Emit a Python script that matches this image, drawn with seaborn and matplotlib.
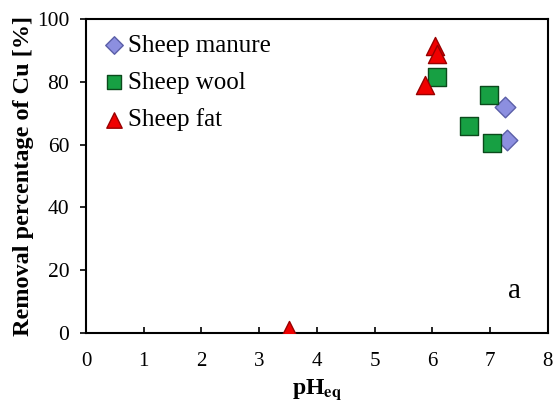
import matplotlib
matplotlib.use("Agg")
import matplotlib.pyplot as plt
import seaborn as sns
import pandas as pd

# data
manure_ph = [7.26, 7.29]
manure_rem = [72.0, 61.5]
wool_ph = [6.08, 6.98, 6.63, 7.03]
wool_rem = [81.5, 75.8, 66.0, 60.5]
fat_ph = [6.04, 6.08, 5.87, 3.52]
fat_rem = [91.5, 89.0, 79.0, 1.0]

series = [
    ("Sheep manure", manure_ph, manure_rem, "D", "#8c8fe0", "#5b5fa8", 110),
    ("Sheep wool", wool_ph, wool_rem, "s", "#17a043", "#0b4a1c", 150),
    ("Sheep fat", fat_ph, fat_rem, "^", "#f00000", "#9a0000", 170),
]

sns.set_style("ticks")
plt.rcParams["font.family"] = ["Liberation Serif", "DejaVu Serif"]
plt.rcParams["mathtext.fontset"] = "stix"
plt.rcParams["text.color"] = "black"
plt.rcParams["axes.labelcolor"] = "black"
plt.rcParams["xtick.color"] = "black"
plt.rcParams["ytick.color"] = "black"

fig = plt.figure(figsize=(5.55, 4.08), dpi=100)
ax = fig.add_axes([0.155, 0.184, 0.832, 0.769])

for name, xs, ys, mk, fc, ec, sz in series:
    df = pd.DataFrame({"pH": xs, "Removal": ys})
    sns.scatterplot(data=df, x="pH", y="Removal", marker=mk, s=sz,
                    color=fc, edgecolor=ec, linewidth=1.0, label=name, ax=ax,
                    zorder=3)

ax.set_xlim(0, 8)
ax.set_ylim(0, 100)
ax.set_xticks(range(0, 9))
ax.set_yticks(range(0, 101, 20))
ax.tick_params(axis="x", direction="in", length=4, width=1.2, labelsize=15, pad=14)
ax.tick_params(axis="y", direction="out", length=4, width=1.2, labelsize=15.5, pad=8)
for sp in ax.spines.values():
    sp.set_linewidth(1.5)
    sp.set_color("black")

ax.set_xlabel(r"pH$_{\mathbf{eq}}$", fontsize=17, fontweight="bold", labelpad=4)
ax.set_ylabel("Removal percentage of Cu [%]", fontsize=17.5, fontweight="bold",
              labelpad=2)
ax.text(7.43, 13.5, "a", fontsize=21, ha="center", va="center")

ax.legend(loc="upper left", frameon=False, fontsize=18, handletextpad=-0.25,
          handlelength=1.6, borderaxespad=0.2, labelspacing=0.58,
          markerscale=0.85, bbox_to_anchor=(-0.015, 1.0))

fig.savefig("out.png", dpi=100)
